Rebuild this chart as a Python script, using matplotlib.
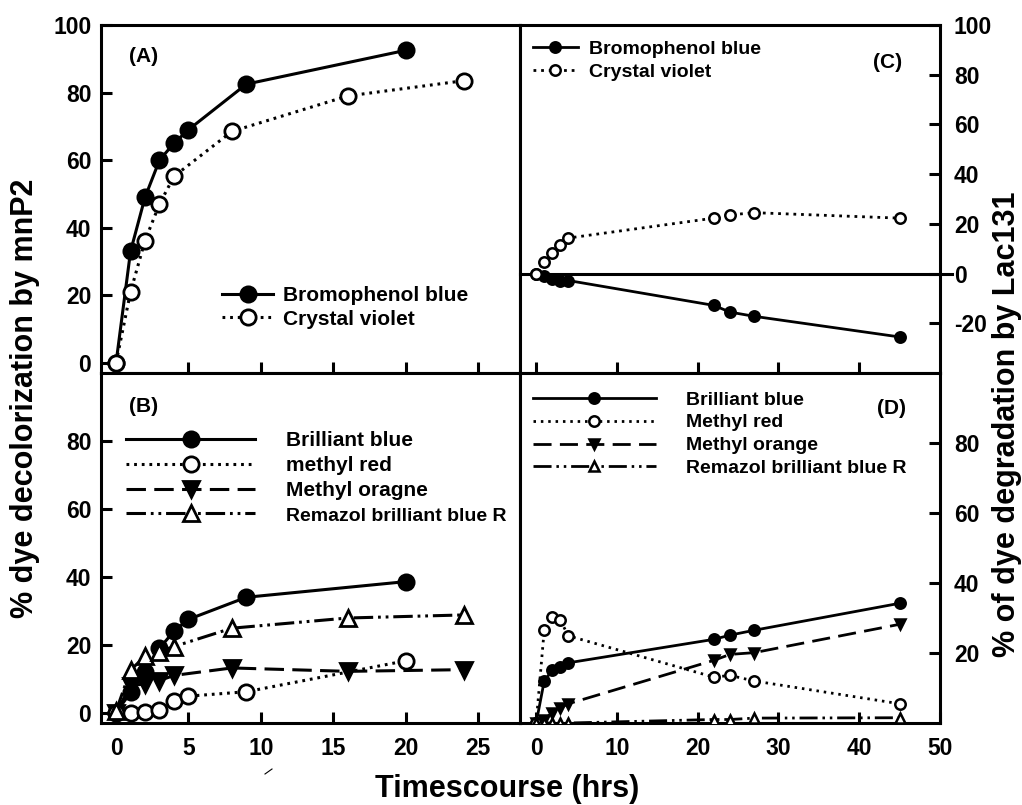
import matplotlib
matplotlib.use('Agg')
import matplotlib.pyplot as plt
from matplotlib.lines import Line2D

plt.rcParams['font.family'] = ['Liberation Sans', 'DejaVu Sans']
plt.rcParams['font.weight'] = 'bold'
plt.rcParams['axes.unicode_minus'] = False
plt.rcParams['lines.scale_dashes'] = False

# ---------------- data ----------------
# Panel A (mnP2)
A_x_bpb = [0, 1, 2, 3, 4, 5, 9, 20]
A_y_bpb = [0, 33, 49, 60, 65, 69, 82.5, 92.5]
A_x_cv = [0, 1, 2, 3, 4, 8, 16, 24]
A_y_cv = [0, 21, 36.2, 47, 55.2, 68.5, 79, 83.5]

# Panel B (mnP2)
B_x_bb = [0, 1, 2, 3, 4, 5, 9, 20]
B_y_bb = [0, 6, 12, 19, 24, 27.5, 34, 38.6]
B_x_mr = [0, 1, 2, 3, 4, 5, 9, 20]
B_y_mr = [0, 0, 0.3, 0.8, 3.4, 4.9, 6.2, 15.3]
B_x_mo = [0, 1, 2, 3, 4, 8, 16, 24]
B_y_mo = [0, 8, 8.5, 9.5, 11, 13.2, 12.2, 12.7]
B_x_rb = [0, 1, 2, 3, 4, 8, 16, 24]
B_y_rb = [0.5, 12.6, 16.6, 18, 19.5, 24.9, 27.9, 28.8]

# Panel C (Lac131)
C_x = [0, 1, 2, 3, 4, 22, 24, 27, 45]
C_y_bpb = [0, -1, -2.1, -2.8, -2.8, -12.8, -15.5, -17.2, -25.5]
C_y_cv = [0, 4.7, 8.2, 11.3, 14.3, 22.3, 23.6, 24.5, 22.3]

# Panel D (Lac131)
D_x = [0, 1, 2, 3, 4, 22, 24, 27, 45]
D_y_bb = [0, 12, 15.1, 16, 17.2, 23.9, 25.1, 26.5, 34.2]
D_y_mr = [0, 26.6, 30.3, 29.3, 24.9, 13.1, 13.6, 12, 5.5]
D_y_mo = [0, 1, 3, 4.4, 5.5, 17.9, 19.6, 20.1, 28.2]
D_y_rb = [0, 0, 0, 0, 0, 1.0, 1.0, 1.4, 1.5]

lab_A = ['Bromophenol blue', 'Crystal violet']
lab_B = ['Brilliant blue', 'methyl red', 'Methyl oragne', 'Remazol brilliant blue R']
lab_C = ['Bromophenol blue', 'Crystal violet']
lab_D = ['Brilliant blue', 'Methyl red', 'Methyl orange', 'Remazol brilliant blue R']

AB_xticks = [0, 5, 10, 15, 20, 25]
A_yticks = [0, 20, 40, 60, 80, 100]
B_yticks = [0, 20, 40, 60, 80]
CD_xticks = [0, 10, 20, 30, 40, 50]
C_yticks = [-20, 0, 20, 40, 60, 80, 100]
D_yticks = [20, 40, 60, 80]

# ---------------- layout ----------------
W, H = 1022, 805
fig = plt.figure(figsize=(W / 100, H / 100), dpi=100)


def fx(px):
    return px / W


def fy(py):
    return 1 - py / H


xl, xm, xr = 101, 520, 940
yt, ym, yb = 25, 373, 723

axA = fig.add_axes([fx(xl), fy(ym), fx(xm) - fx(xl), fy(yt) - fy(ym)])
axB = fig.add_axes([fx(xl), fy(yb), fx(xm) - fx(xl), fy(ym) - fy(yb)])
axC = fig.add_axes([fx(xm), fy(ym), fx(xr) - fx(xm), fy(yt) - fy(ym)])
axD = fig.add_axes([fx(xm), fy(yb), fx(xr) - fx(xm), fy(ym) - fy(yb)])

SOLID = '-'
DOT = (0, (2, 3.5))
DASH = (0, (14, 6))
DDD = (0, (14, 3.5, 2, 3.5, 2, 3.5))

TICKFS = 16.5
for ax in (axA, axB, axC, axD):
    for s in ax.spines.values():
        s.set_linewidth(2.2)
    ax.tick_params(direction='in', length=8, width=2.2, labelsize=TICKFS)

# ---- Panel A ----
big = dict(ms=11, mew=2, color='k', lw=2.2)
axA.plot(A_x_bpb, A_y_bpb, ls=SOLID, marker='o', mfc='k', mec='k', label=lab_A[0], zorder=3, **big)
axA.plot(A_x_cv, A_y_cv, ls=DOT, marker='o', mfc='white', mec='k', label=lab_A[1], zorder=4, **big)
axA.set_xlim(-1.04, 27.9)
axA.set_ylim(-3, 100)
axA.set_xticks(AB_xticks)
axA.set_yticks(A_yticks)
axA.tick_params(axis='x', labelbottom=False)
axA.tick_params(axis='y', pad=7)
legA = axA.legend(loc='upper left', bbox_to_anchor=(fx(222), fy(286)), bbox_transform=fig.transFigure,
                  frameon=False, fontsize=15, handlelength=2.45, handletextpad=0.5, labelspacing=0.22,
                  borderpad=0, borderaxespad=0, numpoints=1)
fig.text(fx(144), fy(56), '(A)', ha='center', va='center', fontsize=15)

# ---- Panel B ----
axB.plot(B_x_bb, B_y_bb, ls=SOLID, marker='o', mfc='k', mec='k', label=lab_B[0], zorder=3, **big)
axB.plot(B_x_mr, B_y_mr, ls=DOT, marker='o', mfc='white', mec='k', label=lab_B[1], zorder=4, **big)
axB.plot(B_x_mo, B_y_mo, ls=DASH, marker='v', mfc='k', mec='k', label=lab_B[2], zorder=3, **big)
axB.plot(B_x_rb, B_y_rb, ls=DDD, marker='^', mfc='white', mec='k', label=lab_B[3], zorder=4, **big)
axB.set_xlim(-1.04, 27.9)
axB.set_ylim(-3, 100)
axB.set_xticks(AB_xticks)
axB.set_yticks(B_yticks)
axB.tick_params(axis='x', pad=10)
axB.tick_params(axis='y', pad=7)
legB = axB.legend(loc='upper left', bbox_to_anchor=(fx(126), fy(431)), bbox_transform=fig.transFigure,
                  frameon=False, fontsize=15, handlelength=6.2, handletextpad=1.5, labelspacing=0.29,
                  borderpad=0, borderaxespad=0, numpoints=1)
legB.get_texts()[3].set_fontsize(14)
fig.text(fx(144), fy(406), '(B)', ha='center', va='center', fontsize=15)

# ---- Panel C ----
small = dict(ms=7.5, mew=1.8, color='k', lw=2.0)
axC.axhline(0, xmin=0, xmax=1.029, color='k', lw=2.2, zorder=2, clip_on=False)
axC.plot(C_x, C_y_bpb, ls=SOLID, marker='o', mfc='k', mec='k', label=lab_C[0], zorder=3, **small)
axC.plot(C_x, C_y_cv, ls=DOT, marker='o', mfc='white', mec='k', label=lab_C[1], zorder=4, **small)
axC.set_xlim(-2, 50)
axC.set_ylim(-40, 100)
axC.set_xticks(CD_xticks[:-1])
axC.set_yticks(C_yticks)
axC.yaxis.tick_right()
axC.tick_params(axis='x', labelbottom=False)
axC.tick_params(axis='y', pad=10)
legC = axC.legend(loc='upper left', bbox_to_anchor=(fx(533), fy(40)), bbox_transform=fig.transFigure,
                  frameon=False, fontsize=14, handlelength=2.3, handletextpad=0.6, labelspacing=0.3,
                  borderpad=0, borderaxespad=0, numpoints=1)
fig.text(fx(888), fy(62), '(C)', ha='center', va='center', fontsize=15)

# ---- Panel D ----
DOT2 = (0, (1.8, 3.5))
DASH2 = (0, (13, 6))
DDD2 = (0, (13, 3.5, 1.8, 3.5, 1.8, 3.5))
axD.plot(D_x, D_y_bb, ls=SOLID, marker='o', mfc='k', mec='k', label=lab_D[0], zorder=3, **small)
axD.plot(D_x, D_y_mr, ls=DOT2, marker='o', mfc='white', mec='k', label=lab_D[1], zorder=4, **small)
axD.plot(D_x, D_y_mo, ls=DASH2, marker='v', mfc='k', mec='k', label=lab_D[2], zorder=3, **small)
axD.plot(D_x, D_y_rb, ls=DDD2, marker='^', mfc='white', mec='k', label=lab_D[3], zorder=4,
         ms=6.5, mew=1.8, color='k', lw=2.0)
axD.set_xlim(-2, 50)
axD.set_ylim(0, 100)
axD.set_xticks(CD_xticks)
axD.set_yticks(D_yticks)
axD.yaxis.tick_right()
axD.tick_params(axis='x', pad=10)
axD.tick_params(axis='y', pad=10)
legD = axD.legend(loc='upper left', bbox_to_anchor=(fx(533), fy(391)), bbox_transform=fig.transFigure,
                  frameon=False, fontsize=14, handlelength=6.3, handletextpad=1.55, labelspacing=0.27,
                  borderpad=0, borderaxespad=0, numpoints=1)
fig.text(fx(891), fy(408), '(D)', ha='center', va='center', fontsize=15)

# ---- axis titles ----
fig.text(fx(25), fy(398), '% dye decolorization by mnP2', rotation=90, ha='center', va='center', fontsize=22)
fig.text(fx(1007), fy(424), '% of dye degradation by Lac131', rotation=90, ha='center', va='center', fontsize=22)
fig.text(fx(507), fy(797), 'Timescourse (hrs)', ha='center', va='baseline', fontsize=22)

# small stray mark present in the original figure
fig.add_artist(Line2D([fx(265), fx(272)], [fy(774), fy(769)], color='k', lw=0.8))

fig.savefig('out.png', dpi=100)
